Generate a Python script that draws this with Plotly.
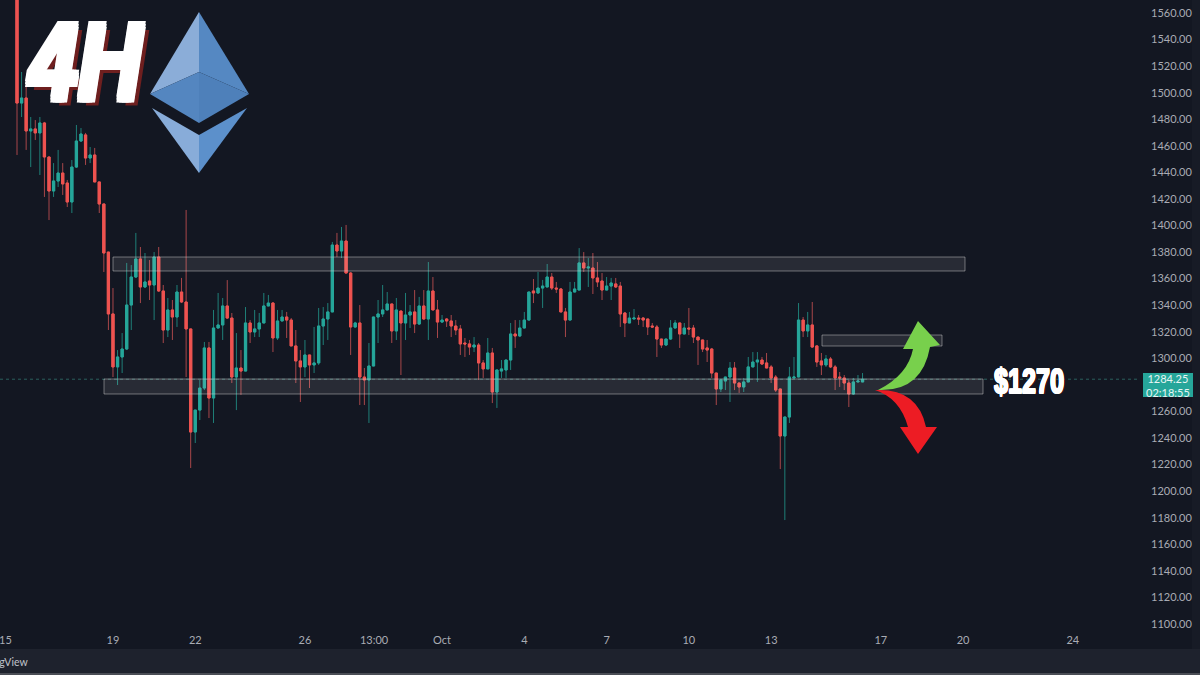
import pandas as pd
import plotly.graph_objects as go

opens = [1595,1492.2,1496,1471.2,1472.7,1469.7,1477.2,1451.6,1426,1433.5,1439.5,1432,1417.7,1444,1463.6,1468.2,1450.8,1453.1,1432.8,1416.2,
1380,1333.4,1293.5,1301,1307,1340.1,1361.2,1374.8,1353.7,1358.2,1355.2,1376.3,1350.7,1321.3,1336.4,1331.1,1349.9,1342.4,1322.1,1244.5,
1261,1277.6,1307.8,1270.1,1322.8,1325.1,1339.4,1330.3,1285.9,1292.7,1290.4,1326.6,1319.8,1322.1,1326.6,1339.4,1341.6,1315.3,1328.1,1331.1,
1328.8,1309.3,1298,1293.5,1302.5,1295,1296.5,1324.3,1329.6,1334.9,1385.3,1380.8,1388.3,1364.2,1323.6,1326.6,1285.9,1283.7,1294.2,1331.1,
1333.4,1336.4,1340.9,1320.6,1335.6,1326.6,1332.6,1334.9,1325.8,1339.4,1329.6,1350.7,1336.4,1327.3,1329.6,1328.1,1324.3,1322.1,1311.5,1310.8,
1308.5,1310,1296.5,1292,1304,1274.6,1290.4,1291.2,1298.7,1318.3,1316.8,1322.8,1328.8,1350.7,1349.2,1352.9,1353.7,1361.2,1352.9,1352.2,
1334.9,1328.8,1349.9,1351.4,1371.8,1368,1368,1360.5,1358.2,1351.4,1354.4,1356,1354.4,1334.1,1326.6,1329.6,1330.3,1330.3,1329.6,1324.3,
1323.6,1314.5,1310,1314.5,1322.8,1326.6,1318.3,1322.8,1322.8,1316,1313.8,1307.8,1307,1288.9,1276.9,1282.9,1285.9,1292.7,1281.4,1278.4,
1282.2,1293.5,1297.2,1298.7,1296.5,1293.5,1285.9,1276.9,1241.5,1255.8,1285.2,1285.9,1328.8,1320.6,1325.1,1309.3,1298,1295,1299.5,1293.5,
1285.9,1285.2,1281.4,1273.1,1282.2,1282.2]
highs = [1600,1515.6,1505.8,1481.7,1479.4,1481.7,1478,1451.6,1447,1456.9,1447,1434.3,1449.3,1475.7,1473.4,1469.7,1459.1,1458.4,1432.8,1416.2,
1380,1352.9,1306.2,1319,1371.8,1370.2,1394.4,1383.8,1379.3,1374,1380,1383.8,1355.2,1345.4,1343.9,1355.2,1360.5,1411.7,1322.1,1261,
1283.7,1312.3,1312.3,1336.4,1349.2,1345.4,1358.9,1334.1,1319,1306.2,1338.6,1328.8,1336.4,1334.1,1349.2,1347.7,1342.4,1336.4,1336.4,1334.9,
1330.3,1321.3,1306.2,1313.8,1302.5,1323.6,1337.9,1338.6,1341.6,1387.6,1394.4,1398.9,1400.4,1365,1327.5,1340.1,1292.7,1311.5,1331.1,1343.9,
1355.2,1349.9,1340.9,1345.4,1335.6,1349.2,1340.1,1351.4,1346.2,1351.4,1372.5,1361.2,1343.9,1332.6,1330.3,1332.6,1328.8,1325.1,1315.3,1313.8,
1316,1311.5,1298.7,1315.3,1307.8,1291.2,1298.7,1298.7,1326.6,1328.8,1328.8,1334.9,1349.9,1359.7,1365,1359,1371,1364.2,1357.5,1352.9,
1337.9,1357.5,1357.5,1383,1380,1375.5,1379.3,1372.5,1364.2,1361.2,1360.5,1360.5,1357.5,1334.9,1334.9,1337.1,1332.6,1331.1,1329.6,1326.6,
1325.1,1314.5,1314.5,1328.8,1328.8,1326.6,1326.6,1337.9,1325.1,1316,1313.8,1313.8,1307.8,1288.9,1283.7,1285.9,1297.2,1297.2,1281.4,1285.2,
1301,1304.7,1304.7,1301,1304,1295,1287.4,1276.9,1255.8,1293.5,1301,1341.6,1331.1,1334.9,1342.4,1310,1304,1302.5,1301,1295,
1289.7,1287.4,1283.7,1285.2,1287.4,1288.9]
lows = [1453.1,1481.7,1456.9,1444,1464.4,1438,1421.5,1404.1,1421.5,1429,1423,1413.9,1409.4,1443.3,1462.9,1445.6,1447,1432.8,1409.4,1365,
1321.3,1285.9,1279.9,1288.9,1306.2,1321.3,1360.5,1341.6,1352.9,1343.9,1328.8,1349.9,1311.5,1316,1313.8,1323.6,1341.6,1285.9,1217.4,1236.2,
1253.5,1276.1,1255,1251.3,1322.8,1313.8,1329.6,1281.4,1261,1272.4,1290.4,1311.5,1316,1316,1326.6,1339.4,1304.7,1313.8,1328.1,1315.3,
1309.3,1281.4,1267.1,1285.9,1277.6,1288.9,1295,1310,1313.8,1334.9,1376.3,1375.5,1364.2,1302.5,1323,1264.8,1264.8,1251.3,1294.2,1311.5,
1331.1,1336.4,1311.5,1313.8,1287.4,1313.8,1322.8,1319,1325.1,1328.8,1313.8,1336.4,1315.3,1326.6,1323.6,1316,1317.5,1302.5,1301,1302.5,
1304.7,1283.7,1285.2,1292,1266.3,1262.6,1285.2,1285.2,1291.2,1307.8,1316,1322.8,1328.8,1341.6,1348.4,1337.9,1353.7,1351.4,1349.2,1334.9,
1316,1328.8,1349.9,1351.4,1365,1353.7,1348.4,1353.7,1343.9,1351.4,1343.9,1352.9,1323.6,1316,1326.6,1329.6,1325.1,1323.6,1317.5,1322.8,
1301,1307.8,1309.3,1313.8,1322.8,1307.8,1318.3,1317.5,1311.5,1295,1304.7,1297.2,1285.2,1264.8,1274.6,1276.1,1267.1,1276.1,1273.9,1274.6,
1282.2,1293.5,1282.2,1295,1292.7,1281.4,1274.6,1216.6,1178.2,1251.3,1285.2,1285.9,1316,1316,1307.8,1293.5,1287.4,1293.5,1292.7,1276.1,
1278.4,1276.1,1263.3,1272.4,1282.2,1282.2]
closes = [1492.2,1496,1471.2,1472.7,1469.7,1477.2,1451.6,1426,1433.5,1439.5,1431.3,1417.7,1444,1463.6,1468.9,1450.8,1453.1,1432.8,1416.2,1379.3,
1333.4,1293.5,1301,1307,1340.1,1361.2,1374.8,1353.7,1357.5,1355.2,1376.3,1350.7,1321.3,1336.4,1331.1,1349.9,1342.4,1322.1,1244.5,1261,
1277.6,1307.8,1270.1,1322.8,1325.1,1339.4,1330.3,1285.9,1292.7,1290.4,1326.6,1319.8,1322.1,1326.6,1339.4,1341.6,1315.3,1328.1,1331.1,1328.8,
1309.3,1298,1293.5,1302.5,1295,1296.5,1324.3,1329.6,1334.9,1385.3,1380.8,1388.3,1364.2,1323.6,1326.6,1285.9,1283.7,1294.2,1331.1,1333.4,
1336.4,1340.9,1320.6,1336.4,1326.6,1332.6,1334.9,1325.8,1339.4,1329.6,1350.7,1336.4,1327.3,1328.8,1328.1,1324.3,1321.3,1310.8,1310.8,1308.5,
1310,1296.5,1292,1304,1274.6,1291.2,1292,1298.7,1318.3,1316.8,1322.8,1328.8,1349.9,1349.2,1352.9,1354.4,1361.2,1352.9,1352.2,1334.9,
1328.8,1349.9,1352.2,1371.8,1368,1368.7,1360.5,1357.5,1351.4,1354.4,1356.7,1353.7,1333.4,1326.6,1330.3,1330.3,1329.6,1328.8,1323.6,1323.6,
1314.5,1310,1314.5,1322.8,1326.6,1318.3,1322.8,1322.1,1316,1313.8,1307,1306.2,1288.9,1276.9,1283.7,1285.9,1292.7,1281.4,1278.4,1282.2,
1293.5,1297.2,1298.7,1295.7,1292.7,1285.2,1276.1,1241.5,1255.8,1285.9,1285.9,1328.8,1320.6,1325.1,1308.5,1297.2,1295,1299.5,1293.5,1285.2,
1285.2,1281.4,1273.1,1282.2,1282.9,1284.25]
price_ticks = [v for v in range(1100, 1561, 20) if v != 1280]
time_tick_dates = ["2022-09-15","2022-09-19","2022-09-22","2022-09-26","2022-09-28 12:30","2022-10-01","2022-10-04","2022-10-07","2022-10-10","2022-10-13","2022-10-17","2022-10-20","2022-10-24"]
time_tick_labels = ["15","19","22","26","13:00","Oct","4","7","10","13","17","20","24"]
last_price = 1284.25

n = min(len(opens), len(highs), len(lows), len(closes))
opens, highs, lows, closes = opens[:n], highs[:n], lows[:n], closes[:n]
times = pd.date_range("2022-09-15 12:00", periods=n, freq="4h")

W, H, PW, PH = 1200, 675, 1140, 632
def fx(x): return x / PW
def fy(y): return 1 - y / PH
def poly(pts, color):
    d = "M " + " L ".join(f"{fx(x):.5f},{fy(y):.5f}" for x, y in pts) + " Z"
    return dict(type="path", xref="paper", yref="paper", path=d, fillcolor=color, line=dict(width=0), layer="above")
def rect(x0, y0, x1, y1, fill, line=None, w=1, layer="above"):
    return dict(type="rect", xref="paper", yref="paper", x0=fx(x0), x1=fx(x1), y0=fy(y0), y1=fy(y1),
                fillcolor=fill, line=dict(color=line or "rgba(0,0,0,0)", width=w if line else 0), layer=layer)
def curve(seq, color):
    d = ""
    for item in seq:
        cmd, *pts = item
        d += cmd + " " + " ".join(f"{fx(x):.5f},{fy(y):.5f}" for x, y in pts) + " "
    return dict(type="path", xref="paper", yref="paper", path=d + "Z", fillcolor=color, line=dict(width=0), layer="above")
def fat(color, r, tail):
    offs = [(r, 0), (-r, 0), (0, r), (0, -r), (r, r), (-r, -r), (r, -r), (-r, r)]
    return ", ".join(f"{a}px {b}px 0 {color}" for a, b in offs) + ", " + tail

RED, GREEN = "#ef5350", "#26a69a"
fig = go.Figure()
fig.add_trace(go.Candlestick(x=times, open=opens, high=highs, low=lows, close=closes, whiskerwidth=0,
    increasing=dict(line=dict(color="#1f7f78", width=1), fillcolor=GREEN),
    decreasing=dict(line=dict(color="#a8474a", width=1), fillcolor=RED), showlegend=False, hoverinfo="skip"))
fig.add_trace(go.Candlestick(x=times, open=opens, close=closes,
    high=[max(a, b) for a, b in zip(opens, closes)], low=[min(a, b) for a, b in zip(opens, closes)], whiskerwidth=0,
    increasing=dict(line=dict(color=GREEN, width=1), fillcolor=GREEN),
    decreasing=dict(line=dict(color=RED, width=1), fillcolor=RED), showlegend=False, hoverinfo="skip"))

zone_fill, zone_line = "rgba(255,255,255,0.09)", "rgba(205,205,205,0.48)"
shapes = [
    dict(type="line", xref="paper", yref="y", x0=0, x1=1, y0=last_price, y1=last_price,
         line=dict(color="#2b5f5c", width=1, dash="dot"), layer="below"),
    rect(PW, 0, W, 649, "#131722", layer="below"),
    rect(1192, 0, W, 649, "#171b26", layer="below"),
    rect(0, 649, W, 673, "#1e222d"),
    rect(0, 673, W, H, "#4a4d55"),
    rect(113, 257, 965, 271, zone_fill, zone_line),
    rect(104, 379, 983, 394, zone_fill, zone_line),
    rect(822, 335, 942, 346, zone_fill, zone_line),
    rect(1143, 373, 1193, 397, GREEN),
    poly([(199, 12), (150, 94), (199, 72)], "#8badd8"),
    poly([(199, 12), (199, 72), (249, 94)], "#5588c2"),
    poly([(150, 94), (199, 72), (199, 123)], "#5486c0"),
    poly([(199, 72), (249, 94), (199, 123)], "#4e80ba"),
    poly([(152, 108), (199, 135), (199, 173)], "#88acd9"),
    poly([(199, 135), (247, 108), (199, 173)], "#5c90cb"),
    curve([("M", (878, 390)), ("Q", (908, 375), (913, 349)), ("L", (903, 349)), ("L", (918, 321)), ("L", (940, 345)),
           ("L", (930, 347)), ("Q", (922, 392), (878, 390))], "#78d04c"),
    curve([("M", (875, 390)), ("Q", (918, 388), (926, 427)), ("L", (937, 427)), ("L", (918, 454)), ("L", (900, 427)),
           ("L", (908, 427)), ("Q", (900, 398), (875, 390))], "#ed1c24"),
]

ax = "#a9acb4"
def note(x, y, text, font, xanchor="center", **kw):
    return dict(xref="paper", yref="paper", x=fx(x), y=fy(y), text=text, font=font, showarrow=False,
                xanchor=xanchor, yanchor="middle", align="center", **kw)
ann = [
    note(85, 60, "<b><i>4H</i></b>", dict(family="Liberation Sans", size=110, color="white",
         shadow=fat("white", 3, "7px 5px 0 #6e1f1f"))),
    note(1029, 380, "<b>$1270</b>", dict(family="Liberation Sans", size=36, color="white",
         shadow=fat("white", 0.7, "2px 1px 0 #4a1010"))),
    note(1168, 385, "1284.25<br>02:18:55", dict(family="Lato", size=11, color="#e8f5f3")),
    note(30, 662, "TradingView", dict(family="Lato", size=10.5, color="#c0c3ca"), xanchor="right"),
    note(5, 639, time_tick_labels[0], dict(family="Lato", size=11, color=ax)),
]

fig.update_layout(
    width=W, height=H, margin=dict(l=0, r=W - PW, t=0, b=H - PH),
    paper_bgcolor="#131722", plot_bgcolor="#131722", showlegend=False, shapes=shapes, annotations=ann,
    font=dict(family="Lato", size=11, color=ax),
    xaxis=dict(type="date", rangeslider=dict(visible=False),
               range=["2022-09-14 21:07", "2022-10-26 10:50"], tickmode="array", tickvals=time_tick_dates[1:],
               ticktext=time_tick_labels[1:], showgrid=False, zeroline=False, showline=False, ticks="",
               tickfont=dict(family="Lato", size=11, color=ax)),
    yaxis=dict(side="right", range=[1093.9, 1569.8], tickmode="array", tickvals=price_ticks,
               ticktext=[f"{v:.2f}" for v in price_ticks], showgrid=False, zeroline=False, showline=False,
               ticks="", ticklabelstandoff=10, tickfont=dict(family="Lato", size=11, color=ax)),
)
squeeze = """
document.body.style.margin='0';document.body.style.overflow='hidden';document.body.style.background='#131722';
document.querySelectorAll('text.annotation-text').forEach(function(t){
  var s=null;
  if(t.textContent==='4H'){s=0.8;}
  if(t.textContent==='$1270'){s=0.7;}
  if(s){t.style.transformBox='fill-box';t.style.transformOrigin='center';t.style.transform='scaleX('+s+')';}
});
"""
fig.write_html("out.html", config=dict(displayModeBar=False), post_script=squeeze)
